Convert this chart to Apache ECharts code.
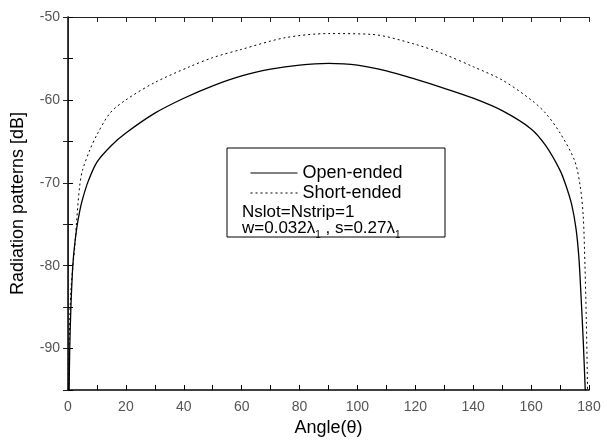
<!DOCTYPE html>
<html>
<head>
<meta charset="utf-8">
<script src="https://cdn.jsdelivr.net/npm/echarts@6/dist/echarts.min.js"></script>
<style>
  html, body { margin: 0; padding: 0; background: #fff; }
  #chart { width: 606px; height: 443px; }
</style>
</head>
<body>
<div id="chart"></div>
<script>
// angles in degrees, radiation level in dB
var openAngles = [0.4, 0.6, 1, 1.5, 2, 3, 4, 5, 7, 10, 15, 20, 30, 40, 50, 60, 70, 80, 90, 100, 110, 120, 130, 140, 150, 160, 165, 170, 172, 174, 175.5, 176.5, 177.3, 178, 178.7];
var openDb = [-95, -90, -85, -81, -78.5, -75.5, -73.5, -72, -69.8, -67.5, -65.5, -64, -61.6, -59.8, -58.3, -57.1, -56.3, -55.8, -55.6, -55.8, -56.5, -57.5, -58.6, -59.8, -61.3, -63.5, -65.5, -68.5, -70.3, -72.6, -75.5, -79, -84, -89, -95];

var shortAngles = [0.2, 0.5, 1, 1.7, 2.4, 3, 4, 5, 7.6, 10, 14.5, 20, 30, 42, 50, 60, 75, 90, 105, 120, 130, 140, 150, 160, 165, 170, 175, 177, 178, 178.6, 179.1, 179.5];
var shortDb = [-95, -88, -83, -80, -77.5, -74.5, -70.5, -68.5, -66, -64.2, -61.6, -60, -57.9, -56, -54.9, -53.9, -52.5, -52, -52.1, -53.3, -54.5, -56, -57.6, -60, -61.6, -64, -67.3, -70.5, -74, -80, -87, -95];

var seriesNames = ['Open-ended', 'Short-ended'];
var noteLines = ['Nslot=Nstrip=1', 'w=0.032{l|λ}{s|1} , s=0.27{l|λ}{s|1}'];

function pairs(xs, ys) {
  return xs.map(function (x, i) { return [x, ys[i]]; });
}

var font = 'Liberation Sans, Arial, sans-serif';
var myChart = echarts.init(document.getElementById('chart'));

var option = {
  backgroundColor: '#fff',
  animation: false,
  grid: { left: 68, right: 17, top: 17, bottom: 53 },
  legend: {
    data: seriesNames,
    orient: 'vertical',
    left: 250,
    top: 163,
    padding: 0,
    itemWidth: 47,
    itemHeight: 10,
    itemGap: 0,
    itemStyle: { opacity: 0 },
    lineStyle: { width: 1 },
    textStyle: { fontFamily: font, fontSize: 18, color: '#000', lineHeight: 20 }
  },
  xAxis: [
    {
      type: 'value', min: 0, max: 180, interval: 20, position: 'bottom',
      name: 'Angle(θ)', nameLocation: 'middle', nameGap: 25,
      nameTextStyle: { fontFamily: font, fontSize: 18, color: '#000' },
      axisLine: { lineStyle: { color: '#000', width: 1.5 } },
      axisTick: { inside: true, length: 5, lineStyle: { color: '#000' } },
      minorTick: { show: true, splitNumber: 2, length: 5, lineStyle: { color: '#000' } },
      splitLine: { show: false },
      axisLabel: { fontFamily: font, fontSize: 14, color: '#555', margin: 10 }
    },
    {
      type: 'value', min: 0, max: 180, interval: 20, position: 'top',
      axisLine: { lineStyle: { color: '#222', width: 1 } },
      axisTick: { inside: true, length: 5, lineStyle: { color: '#222' } },
      minorTick: { show: true, splitNumber: 2, length: 5, lineStyle: { color: '#222' } },
      splitLine: { show: false },
      axisLabel: { show: false }
    }
  ],
  yAxis: [
    {
      type: 'value', min: -95, max: -50, interval: 5, position: 'left',
      name: 'Radiation patterns [dB]', nameLocation: 'middle', nameGap: 41,
      nameTextStyle: { fontFamily: font, fontSize: 18, color: '#000' },
      axisLine: { show: true, lineStyle: { color: '#000', width: 1.5 } },
      axisTick: { show: true, inside: true, length: 5, lineStyle: { color: '#000' } },
      splitLine: { show: false },
      axisLabel: {
        fontFamily: font, fontSize: 14, color: '#555', margin: 8,
        formatter: function (v) { return v % 10 === 0 ? String(v) : ''; }
      }
    },
    {
      type: 'value', min: -95, max: -50, interval: 5, position: 'right',
      axisLine: { show: true, lineStyle: { color: '#222', width: 1 } },
      axisTick: { show: true, inside: true, length: 5, lineStyle: { color: '#222' } },
      splitLine: { show: false },
      axisLabel: { show: false }
    }
  ],
  graphic: [
    {
      type: 'rect', z: 3,
      shape: { x: 227, y: 148, width: 218, height: 89 },
      style: { fill: '#fff', stroke: '#000', lineWidth: 1 }
    },
    {
      type: 'text', z: 5, left: 242, top: 204,
      style: { text: noteLines[0], font: '17px ' + font, fill: '#000' }
    },
    {
      type: 'text', z: 5, left: 242, top: 220,
      style: {
        text: noteLines[1], font: '17px ' + font, fill: '#000',
        rich: {
          l: { fontFamily: font, fontSize: 17, fill: '#000' },
          s: { fontFamily: font, fontSize: 10, fill: '#000', padding: [14, 0, 0, 0] }
        }
      }
    }
  ],
  series: [
    {
      name: seriesNames[0], type: 'line', data: pairs(openAngles, openDb),
      xAxisIndex: 0, yAxisIndex: 0, showSymbol: false, symbol: 'none', smooth: 0.3,
      lineStyle: { color: '#000', width: 1.3, type: 'solid' },
      itemStyle: { color: '#000' }
    },
    {
      name: seriesNames[1], type: 'line', data: pairs(shortAngles, shortDb),
      xAxisIndex: 0, yAxisIndex: 0, showSymbol: false, symbol: 'none', smooth: 0.3,
      lineStyle: { color: '#000', width: 1, type: [2, 3] },
      itemStyle: { color: '#000' }
    }
  ]
};

myChart.setOption(option);
</script>
</body>
</html>
